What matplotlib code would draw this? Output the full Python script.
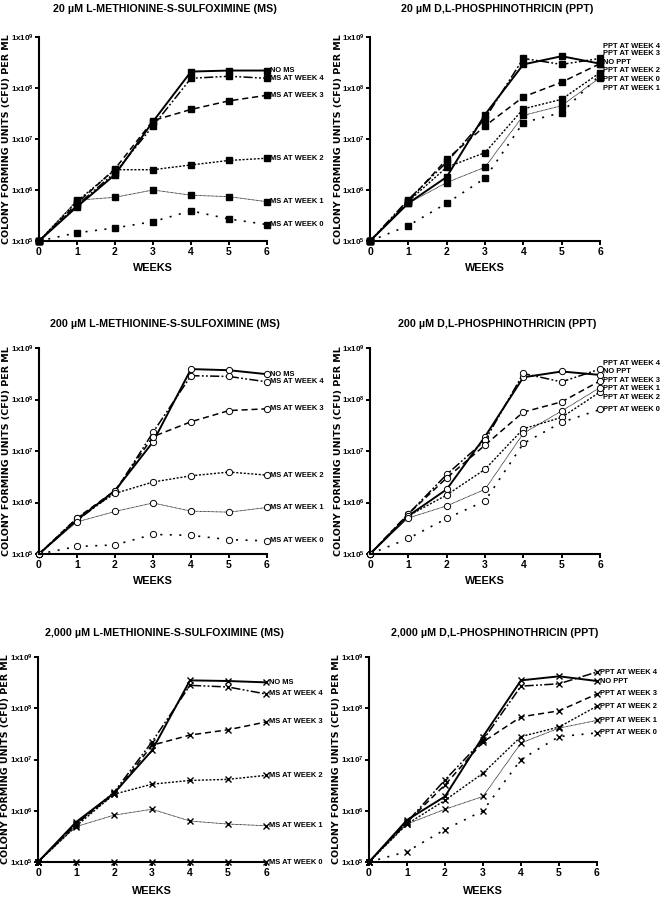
import matplotlib
matplotlib.use('Agg')
import matplotlib.pyplot as plt
from matplotlib import font_manager

# pick the narrowest bold sans that is installed
installed = {f.name for f in font_manager.fontManager.ttflist}
if 'Liberation Sans Narrow' in installed:
    main_font = 'Liberation Sans Narrow'
else:
    main_font = 'Liberation Sans'

plt.rcParams['font.family'] = [main_font, 'DejaVu Sans']
plt.rcParams['font.weight'] = 'bold'
plt.rcParams['mathtext.default'] = 'regular'

weeks = [0, 1, 2, 3, 4, 5, 6]

ms_names = ['NO MS', 'MS AT WEEK 4', 'MS AT WEEK 3', 'MS AT WEEK 2', 'MS AT WEEK 1', 'MS AT WEEK 0']
ppt_names = ['NO PPT', 'PPT AT WEEK 4', 'PPT AT WEEK 3', 'PPT AT WEEK 2', 'PPT AT WEEK 1', 'PPT AT WEEK 0']

# 20 uM
ms20 = [
    [1e5, 4.7e5, 2.0e6, 2.2e7, 2.1e8, 2.2e8, 2.2e8],
    [1e5, 5.0e5, 2.2e6, 1.8e7, 1.55e8, 1.7e8, 1.55e8],
    [1e5, 5.5e5, 2.6e6, 2.3e7, 3.8e7, 5.6e7, 7.2e7],
    [1e5, 6.0e5, 2.5e6, 2.5e6, 3.1e6, 3.8e6, 4.2e6],
    [1e5, 6.3e5, 7.2e5, 1.0e6, 7.9e5, 7.4e5, 5.9e5],
    [1e5, 1.45e5, 1.8e5, 2.4e5, 3.9e5, 2.7e5, 2.1e5],
]
ppt20 = [
    [1e5, 5.5e5, 1.8e6, 3.0e7, 2.9e8, 4.2e8, 3.0e8],
    [1e5, 6.5e5, 3.5e6, 2.5e7, 3.8e8, 2.9e8, 3.8e8],
    [1e5, 6.0e5, 4.0e6, 1.8e7, 6.7e7, 1.3e8, 3.0e8],
    [1e5, 6.0e5, 2.8e6, 5.4e6, 3.9e7, 6.0e7, 2.0e8],
    [1e5, 5.5e5, 1.4e6, 2.8e6, 2.9e7, 4.5e7, 1.6e8],
    [1e5, 2.0e5, 5.5e5, 1.7e6, 2.1e7, 3.3e7, 1.8e8],
]
# where the end labels of the PPT panels sit (same order as ppt_names)
ppt20_label_y = [3.2e8, 6.5e8, 4.7e8, 2.2e8, 9.8e7, 1.48e8]

# 200 uM
ms200 = [
    [1e5, 4.6e5, 1.7e6, 1.5e7, 3.9e8, 3.7e8, 3.1e8],
    [1e5, 4.5e5, 1.6e6, 2.3e7, 2.9e8, 2.8e8, 2.2e8],
    [1e5, 5.0e5, 1.7e6, 1.9e7, 3.7e7, 6.1e7, 6.6e7],
    [1e5, 5.0e5, 1.5e6, 2.5e6, 3.3e6, 3.9e6, 3.4e6],
    [1e5, 4.2e5, 6.7e5, 9.8e5, 6.8e5, 6.5e5, 8.0e5],
    [1e5, 1.4e5, 1.5e5, 2.4e5, 2.3e5, 1.9e5, 1.8e5],
]
ppt200 = [
    [1e5, 5.5e5, 1.8e6, 1.9e7, 2.7e8, 3.5e8, 3.0e8],
    [1e5, 6.0e5, 3.5e6, 1.6e7, 3.2e8, 2.2e8, 3.9e8],
    [1e5, 6.0e5, 3.0e6, 1.3e7, 5.7e7, 9.0e7, 2.3e8],
    [1e5, 5.5e5, 1.4e6, 4.4e6, 2.7e7, 4.5e7, 1.4e8],
    [1e5, 5.0e5, 8.6e5, 1.8e6, 2.2e7, 6.0e7, 1.7e8],
    [1e5, 2.0e5, 4.9e5, 1.07e6, 1.4e7, 3.6e7, 6.4e7],
]
ppt200_label_y = [3.5e8, 5.0e8, 2.3e8, 1.1e8, 1.6e8, 6.4e7]

# 2,000 uM
ms2000 = [
    [1e5, 6.0e5, 2.2e6, 1.5e7, 3.5e8, 3.4e8, 3.2e8],
    [1e5, 5.5e5, 2.3e6, 2.2e7, 2.8e8, 2.6e8, 1.9e8],
    [1e5, 5.5e5, 2.1e6, 1.9e7, 3.0e7, 3.8e7, 5.4e7],
    [1e5, 5.0e5, 2.1e6, 3.3e6, 3.9e6, 4.1e6, 4.9e6],
    [1e5, 4.9e5, 8.2e5, 1.07e6, 6.3e5, 5.5e5, 5.1e5],
    [1e5, 1e5, 1e5, 1e5, 1e5, 1e5, 1e5],
]
ppt2000 = [
    [1e5, 6.6e5, 1.9e6, 2.8e7, 3.5e8, 4.2e8, 3.4e8],
    [1e5, 6.0e5, 4.0e6, 2.4e7, 2.7e8, 3.0e8, 5.1e8],
    [1e5, 6.0e5, 3.2e6, 2.2e7, 6.8e7, 8.9e7, 1.9e8],
    [1e5, 5.5e5, 1.6e6, 5.4e6, 2.8e7, 4.3e7, 1.1e8],
    [1e5, 5.5e5, 1.07e6, 1.9e6, 2.1e7, 4.1e7, 5.8e7],
    [1e5, 1.6e5, 4.3e5, 1.0e6, 1.0e7, 2.8e7, 3.3e7],
]
ppt2000_label_y = [3.4e8, 4.9e8, 1.9e8, 1.1e8, 5.8e7, 3.3e7]

# line styles: control, week 4 ... week 0
styles = [
    dict(ls='-', lw=1.4),
    dict(ls=(0, (6, 1.5, 1.2, 1.5, 1.2, 1.5)), lw=1.1),
    dict(ls=(0, (4, 2.5)), lw=1.1),
    dict(ls=(0, (1.5, 1.2)), lw=1.0),
    dict(ls=(0, (1, 0.6)), lw=0.6),
    dict(ls=(0, (1.2, 4.5)), lw=1.2),
]

fig = plt.figure(figsize=(6.62, 8.99), dpi=100)
W, H = 662, 899
narrow = main_font == 'Liberation Sans Narrow'
lab_fs = 6 if narrow else 5.4
title_fs = 8.5 if narrow else 7.7


def px_axes(x0, x1, ytop, ybot):
    return fig.add_axes([x0 / W, 1 - ybot / H, (x1 - x0) / W, (ybot - ytop) / H])


def draw_panel(box, title, data, names, marker, label_y, title_y, weeks_y):
    x0, x1, ytop, ybot = box
    ax = px_axes(x0, x1, ytop, ybot)
    if marker == 'o':
        mk = dict(marker='o', ms=4.5, mfc='white', mec='black', mew=0.7)
    elif marker == 's':
        mk = dict(marker='s', ms=3.8, mfc='black', mec='black')
    else:
        mk = dict(marker='x', ms=3.8, mec='black', mew=1.0)
    for vals, st in zip(data, styles):
        ax.plot(weeks, vals, color='black', clip_on=False, **st, **mk)
    for name, ly in zip(names, label_y):
        ax.annotate(name, xy=(6, ly), xytext=(2.5, 0), textcoords='offset points',
                    ha='left', va='center', fontsize=lab_fs, annotation_clip=False)
    ax.set_yscale('log')
    ax.set_xlim(0, 6)
    ax.set_ylim(1e5, 1e9)
    ax.set_xticks(weeks)
    ax.set_xticklabels([str(w) for w in weeks], fontsize=7.5)
    ax.set_yticks([1e5, 1e6, 1e7, 1e8, 1e9])
    ax.set_yticklabels(['1x10$^{%d}$' % e for e in range(5, 10)], fontsize=5.8)
    ax.minorticks_off()
    ax.tick_params(direction='out', length=3, width=1.4, pad=1)
    for s in ['top', 'right']:
        ax.spines[s].set_visible(False)
    for s in ['left', 'bottom']:
        ax.spines[s].set_linewidth(1.5)
    cx = (x0 + x1) / 2
    fig.text((cx + 12) / W, 1 - title_y / H, title, ha='center', va='center', fontsize=title_fs)
    fig.text(cx / W, 1 - weeks_y / H, 'WEEKS', ha='center', va='center', fontsize=7.8)
    fig.text((x0 - 32) / W, 1 - (ytop + ybot) / 2 / H, 'COLONY FORMING UNITS (CFU) PER ML',
             rotation=90, ha='center', va='center', fontsize=6.8, family='DejaVu Sans')
    return ax


draw_panel((39, 267, 37, 241), '20 \u00b5M L-METHIONINE-S-SULFOXIMINE (MS)',
           ms20, ms_names, 's', [v[-1] for v in ms20], 9, 268)
draw_panel((370, 600, 37, 241), '20 \u00b5M D,L-PHOSPHINOTHRICIN (PPT)',
           ppt20, ppt_names, 's', ppt20_label_y, 9, 268)
draw_panel((39, 267, 348, 554), '200 \u00b5M L-METHIONINE-S-SULFOXIMINE (MS)',
           ms200, ms_names, 'o', [v[-1] for v in ms200], 324, 581)
draw_panel((370, 600, 348, 554), '200 \u00b5M D,L-PHOSPHINOTHRICIN (PPT)',
           ppt200, ppt_names, 'o', ppt200_label_y, 324, 581)
draw_panel((38, 266, 657, 862), '2,000 \u00b5M L-METHIONINE-S-SULFOXIMINE (MS)',
           ms2000, ms_names, 'x', [v[-1] for v in ms2000], 633, 891)
draw_panel((369, 597, 657, 862), '2,000 \u00b5M D,L-PHOSPHINOTHRICIN (PPT)',
           ppt2000, ppt_names, 'x', ppt2000_label_y, 633, 891)

fig.savefig('out.png', dpi=100)
